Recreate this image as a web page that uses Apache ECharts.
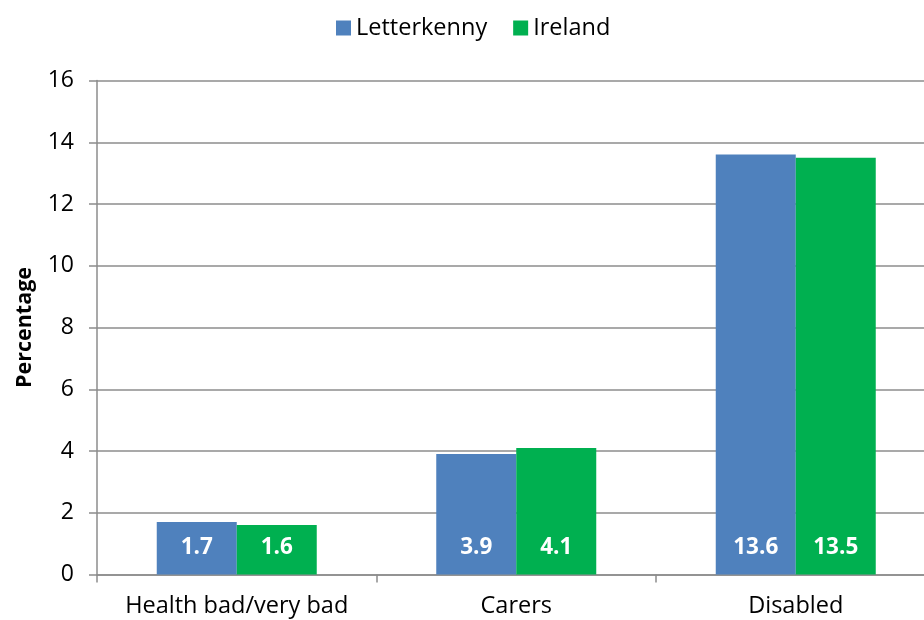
<!DOCTYPE html>
<html><head><meta charset="utf-8">
<script src="https://cdn.jsdelivr.net/npm/echarts@6/dist/echarts.min.js"></script>
<style>html,body{margin:0;padding:0;background:#fff}#c{width:924px;height:620px}</style>
</head><body><div id="c"></div>
<script>
const categories = ['Health bad/very bad', 'Carers', 'Disabled'];
const letterkenny = [1.7, 3.9, 13.6];
const ireland = [1.6, 4.1, 13.5];
const yTicks = [0, 2, 4, 6, 8, 10, 12, 14, 16];

const chart = echarts.init(document.getElementById('c'));
const font = '"Open Sans", "Noto Sans", sans-serif';
const gridColor = '#8c8c8c';
const label = {
  show: true, position: 'insideBottom', distance: 15,
  color: '#fff', fontWeight: 'bold', fontSize: 22.5, fontFamily: font,
  formatter: p => p.value.toFixed(1)
};
chart.setOption({
  animation: false,
  textStyle: { fontFamily: font },
  legend: {
    top: 11, left: 331, itemWidth: 15, itemHeight: 15, itemGap: 26,
    icon: 'rect',
    textStyle: { fontSize: 23.5, color: '#000', fontFamily: font }
  },
  grid: { left: 97, width: 838.5, top: 80.5, bottom: 45.5, containLabel: false, outerBoundsMode: 'none' },
  xAxis: {
    type: 'category', data: categories,
    axisLine: { lineStyle: { color: gridColor, width: 1.5 } },
    axisTick: { show: true, interval: 0, length: 8, lineStyle: { color: gridColor, width: 1.5 } },
    axisLabel: { color: '#000', fontSize: 23.5, margin: 20, interval: 0, hideOverlap: false, fontFamily: font }
  },
  yAxis: {
    type: 'value', min: 0, max: 16, interval: 2,
    name: 'Percentage', nameLocation: 'middle', nameGap: 61,
    nameTextStyle: { fontWeight: 'bold', fontSize: 21.5, color: '#000', fontFamily: font },
    axisLine: { show: true, lineStyle: { color: gridColor, width: 1.5 } },
    axisTick: { show: true, length: 8, lineStyle: { color: gridColor, width: 1.5 } },
    axisLabel: { color: '#000', fontSize: 23, margin: 23, fontFamily: font,
      formatter: v => yTicks.includes(v) ? String(v) : '' },
    splitLine: { lineStyle: { color: gridColor, width: 1.5 } }
  },
  series: [
    { name: 'Letterkenny', type: 'bar', data: letterkenny, barWidth: 80, barGap: '0%',
      itemStyle: { color: '#4F81BD' }, label },
    { name: 'Ireland', type: 'bar', data: ireland, barWidth: 80, barGap: '0%',
      itemStyle: { color: '#00B050' }, label }
  ]
});
</script></body></html>
